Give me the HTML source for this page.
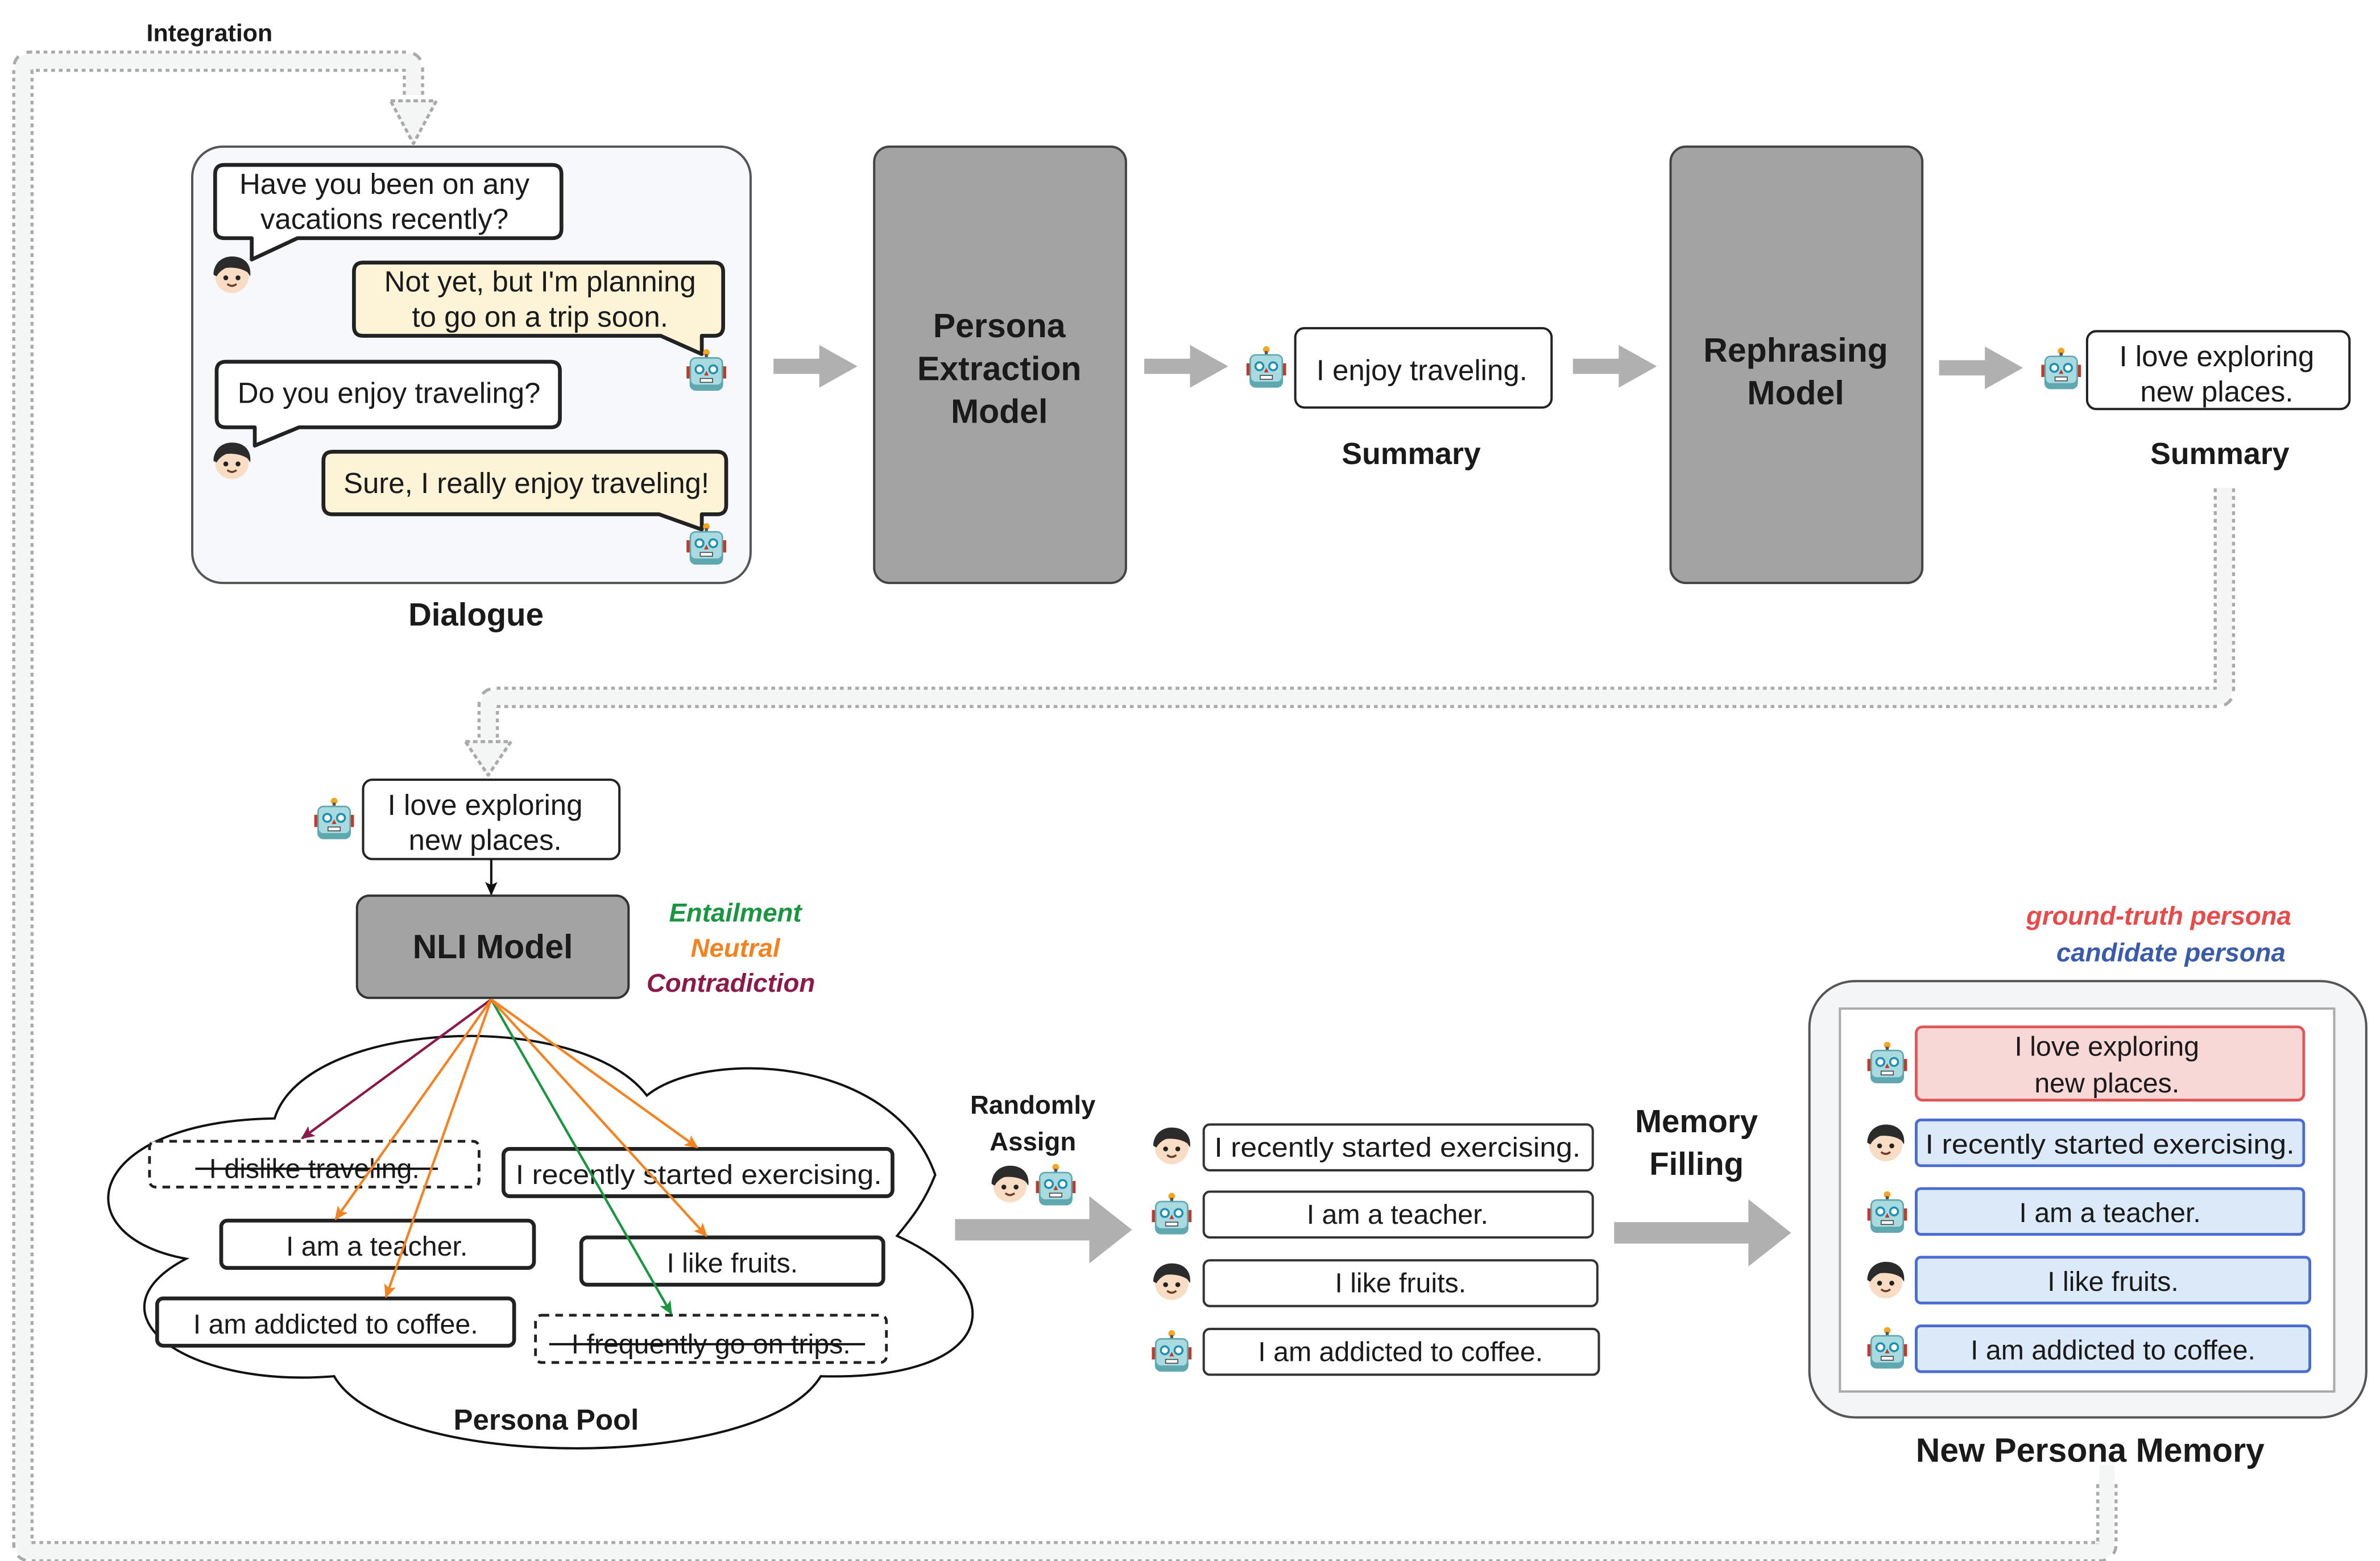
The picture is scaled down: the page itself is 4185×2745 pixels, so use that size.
<!DOCTYPE html>
<html><head><meta charset="utf-8"><style>
html,body{margin:0;padding:0;background:#fff;}
svg{display:block;}
text{font-family:"Liberation Sans",sans-serif;fill:#1a1a1a;}
.b{font-weight:bold;}
</style></head><body>
<svg width="4185" height="2745" viewBox="0 0 1560 1023" xmlns="http://www.w3.org/2000/svg">
<defs>
<g id="face">
<circle cx="0" cy="1" r="11" fill="#f8dcc4"/>
<path d="M-12,0 C-13,-13 13,-13 12,0 C8,-5 -4,-6 -8,-3 Z" fill="#2b2b2b"/>
<path d="M-12,0 C-12,-8 -6,-12 0,-12 C8,-12 13,-7 12,1 L10,-2 C4,-8 -6,-6 -10,1 Z" fill="#2b2b2b"/>
<circle cx="-4" cy="2" r="1.6" fill="#222"/><circle cx="4" cy="2" r="1.6" fill="#222"/>
<path d="M-3,6 Q0,8.5 3,6" stroke="#6b3a2a" stroke-width="1.3" fill="none"/>
</g>
<g id="robot">
<circle cx="0" cy="-12" r="2.2" fill="#f5a623"/>
<rect x="-1" y="-11" width="2" height="3" fill="#555"/>
<rect x="-13" y="-3" width="3" height="8" fill="#c0392b"/><rect x="10" y="-3" width="3" height="8" fill="#c0392b"/>
<rect x="-11" y="-9" width="22" height="22" rx="4" fill="#5fa8b0"/>
<rect x="-10" y="-8" width="20" height="17" rx="3" fill="#a8dadf"/>
<circle cx="-4.5" cy="-1" r="2.6" fill="#fff" stroke="#1d8fb0" stroke-width="1.3"/>
<circle cx="4.5" cy="-1" r="2.6" fill="#fff" stroke="#1d8fb0" stroke-width="1.3"/>
<path d="M0,0 L-1.5,3 L1.5,3 Z" fill="#c0392b"/>
<rect x="-4" y="5" width="8" height="2.5" fill="#fff" stroke="#444" stroke-width="0.6"/>
</g>
<marker id="ma" markerWidth="10" markerHeight="10" refX="8" refY="5" orient="auto" markerUnits="userSpaceOnUse"><path d="M0,1 L9,5 L0,9 L2,5 Z" fill="#8b1a4a"/></marker>
<marker id="mo" markerWidth="10" markerHeight="10" refX="8" refY="5" orient="auto" markerUnits="userSpaceOnUse"><path d="M0,1 L9,5 L0,9 L2,5 Z" fill="#f58220"/></marker>
<marker id="mg" markerWidth="10" markerHeight="10" refX="8" refY="5" orient="auto" markerUnits="userSpaceOnUse"><path d="M0,1 L9,5 L0,9 L2,5 Z" fill="#1a9641"/></marker>
<marker id="mk" markerWidth="10" markerHeight="10" refX="8" refY="5" orient="auto" markerUnits="userSpaceOnUse"><path d="M0,1 L9,5 L0,9 L2,5 Z" fill="#111"/></marker>
</defs>

<!-- integration loop band -->
<g fill="none" stroke-linejoin="round">
<path d="M271,62 L271,45 Q271,40 266,40 L20,40 Q15,40 15,45 L15,1012 Q15,1017 20,1017 L1376,1017 Q1381,1017 1381,1012 L1381,972" stroke="#aaa" stroke-width="14" stroke-dasharray="2.5,2.5"/>
<path d="M271,62 L271,45 Q271,40 266,40 L20,40 Q15,40 15,45 L15,1012 Q15,1017 20,1017 L1376,1017 Q1381,1017 1381,1012 L1381,972" stroke="#f4f5f5" stroke-width="10"/>
<path d="M256,66 L286,66 L271,94 Z" fill="#f4f5f5" stroke="#aaa" stroke-width="2" stroke-dasharray="3,2"/>
<path d="M1381,975 L1381,960" stroke="#f4f5f5" stroke-width="10"/>
<!-- summary to NLI band -->
<path d="M1458,320 L1458,452 Q1458,457 1453,457 L325,457 Q320,457 320,462 L320,484" stroke="#aaa" stroke-width="14" stroke-dasharray="2.5,2.5"/>
<path d="M1458,320 L1458,452 Q1458,457 1453,457 L325,457 Q320,457 320,462 L320,484" stroke="#f4f5f5" stroke-width="10"/>
<path d="M305,486 L335,486 L320,508 Z" fill="#f4f5f5" stroke="#aaa" stroke-width="2" stroke-dasharray="3,2"/>
</g>
<text x="96" y="27" class="b" font-size="16">Integration</text>

<!-- Dialogue -->
<rect x="126" y="96" width="366" height="286" rx="20" fill="#f6f8fb" stroke="#555" stroke-width="1.5"/>
<g stroke="#222" stroke-width="2.5" stroke-linejoin="round">
<path d="M147,108 L362,108 Q368,108 368,114 L368,150 Q368,156 362,156 L195,156 L165,170 L165,156 L147,156 Q141,156 141,150 L141,114 Q141,108 147,108 Z" fill="#fff"/>
<path d="M238,172 L468,172 Q474,172 474,178 L474,214 Q474,220 468,220 L460,220 L460,232 L433,220 L238,220 Q232,220 232,214 L232,178 Q232,172 238,172 Z" fill="#fdf3d6"/>
<path d="M148,237 L361,237 Q367,237 367,243 L367,274 Q367,280 361,280 L196,280 L167,292 L167,280 L148,280 Q142,280 142,274 L142,243 Q142,237 148,237 Z" fill="#fff"/>
<path d="M218,296 L470,296 Q476,296 476,302 L476,331 Q476,337 470,337 L460,337 L460,347 L432,337 L218,337 Q212,337 212,331 L212,302 Q212,296 218,296 Z" fill="#fdf3d6"/>
</g>
<g font-size="19" text-anchor="middle">
<text x="252" y="127">Have you been on any</text>
<text x="252" y="150">vacations recently?</text>
<text x="354" y="191">Not yet, but I'm planning</text>
<text x="354" y="214">to go on a trip soon.</text>
<text x="255" y="264">Do you enjoy traveling?</text>
<text x="345" y="323">Sure, I really enjoy traveling!</text>
</g>
<use href="#face" x="152" y="180"/>
<use href="#robot" x="463" y="243"/>
<use href="#face" x="152" y="302"/>
<use href="#robot" x="463" y="357"/>
<text x="312" y="410" class="b" font-size="21" text-anchor="middle">Dialogue</text>

<!-- models -->
<rect x="573" y="96" width="165" height="286" rx="10" fill="#a3a3a3" stroke="#444" stroke-width="1.5"/>
<g class="b" font-size="22" text-anchor="middle" font-weight="bold">
<text x="655" y="221">Persona</text><text x="655" y="249">Extraction</text><text x="655" y="277">Model</text>
</g>
<rect x="1095" y="96" width="165" height="286" rx="10" fill="#a3a3a3" stroke="#444" stroke-width="1.5"/>
<g font-size="22" text-anchor="middle" font-weight="bold">
<text x="1177" y="237">Rephrasing</text><text x="1177" y="265">Model</text>
</g>

<!-- gray arrows -->
<g fill="#b0b0b0">
<path d="M507,235 L537,235 L537,226 L562,240 L537,254 L537,245 L507,245 Z"/>
<path d="M750,235 L780,235 L780,226 L805,240 L780,254 L780,245 L750,245 Z"/>
<path d="M1031,235 L1061,235 L1061,226 L1086,240 L1061,254 L1061,245 L1031,245 Z"/>
<path d="M1271,236 L1301,236 L1301,227 L1326,241 L1301,255 L1301,246 L1271,246 Z"/>
<path d="M626,799 L714,799 L714,784 L742,806 L714,828 L714,813 L626,813 Z"/>
<path d="M1058,801 L1146,801 L1146,786 L1174,808 L1146,830 L1146,815 L1058,815 Z"/>
</g>

<use href="#robot" x="830" y="241"/>
<rect x="849" y="215" width="168" height="52" rx="6" fill="#fff" stroke="#222" stroke-width="1.5"/>
<text x="932" y="249" font-size="19" text-anchor="middle">I enjoy traveling.</text>
<text x="925" y="304" font-size="20" class="b" text-anchor="middle">Summary</text>

<use href="#robot" x="1351" y="242"/>
<rect x="1368" y="217" width="172" height="51" rx="6" fill="#fff" stroke="#222" stroke-width="1.5"/>
<text x="1453" y="240" font-size="19" text-anchor="middle">I love exploring</text>
<text x="1453" y="263" font-size="19" text-anchor="middle">new places.</text>
<text x="1455" y="304" font-size="20" class="b" text-anchor="middle">Summary</text>

<!-- NLI -->
<use href="#robot" x="219" y="537"/>
<rect x="238" y="511" width="168" height="52" rx="6" fill="#fff" stroke="#222" stroke-width="1.5"/>
<text x="318" y="534" font-size="19" text-anchor="middle">I love exploring</text>
<text x="318" y="557" font-size="19" text-anchor="middle">new places.</text>
<line x1="322" y1="563" x2="322" y2="586" stroke="#111" stroke-width="1.5" marker-end="url(#mk)"/>
<rect x="234" y="587" width="178" height="67" rx="8" fill="#a3a3a3" stroke="#333" stroke-width="1.5"/>
<text x="323" y="628" font-size="22" class="b" text-anchor="middle">NLI Model</text>
<g font-size="17" font-weight="bold" font-style="italic" text-anchor="middle">
<text x="482" y="604" style="fill:#1a9641">Entailment</text>
<text x="482" y="627" style="fill:#f58220">Neutral</text>
<text x="479" y="650" style="fill:#8b1a4a">Contradiction</text>
</g>

<!-- cloud -->
<path d="M180,733 C200,668 380,660 424,718 C460,688 585,690 613,770 C605,790 596,800 588,810 C665,845 655,905 538,902 C500,965 255,965 219,902 C120,910 55,860 122,825 C40,810 55,735 180,733 Z" fill="#fff" stroke="#111" stroke-width="1.5"/>
<g stroke-width="2.5" fill="#fff" stroke="#222">
<rect x="98" y="748" width="216" height="30" rx="4" stroke-dasharray="5,4" stroke-width="1.8"/>
<rect x="330" y="753" width="255" height="31" rx="4"/>
<rect x="145" y="800" width="205" height="31" rx="4"/>
<rect x="381" y="811" width="198" height="31" rx="4"/>
<rect x="103" y="851" width="234" height="31" rx="4"/>
<rect x="351" y="862" width="230" height="31" rx="4" stroke-dasharray="5,4" stroke-width="1.8"/>
</g>
<g font-size="18" text-anchor="middle">
<text x="206" y="772">I dislike traveling.</text>
<text x="458" y="776" textLength="240" lengthAdjust="spacingAndGlyphs">I recently started exercising.</text>
<text x="247" y="823">I am a teacher.</text>
<text x="480" y="834">I like fruits.</text>
<text x="220" y="874">I am addicted to coffee.</text>
<text x="466" y="887">I frequently go on trips.</text>
</g>
<line x1="128" y1="766" x2="287" y2="766" stroke="#111" stroke-width="1.5"/>
<line x1="360" y1="881" x2="567" y2="881" stroke="#111" stroke-width="1.5"/>
<text x="358" y="937" font-size="19" class="b" text-anchor="middle">Persona Pool</text>
<g stroke-width="1.6" fill="none">
<line x1="322" y1="655" x2="198" y2="746" stroke="#8b1a4a" marker-end="url(#ma)"/>
<line x1="322" y1="655" x2="220" y2="799" stroke="#f58220" marker-end="url(#mo)"/>
<line x1="322" y1="655" x2="253" y2="850" stroke="#f58220" marker-end="url(#mo)"/>
<line x1="322" y1="655" x2="440" y2="861" stroke="#1a9641" marker-end="url(#mg)"/>
<line x1="322" y1="655" x2="463" y2="810" stroke="#f58220" marker-end="url(#mo)"/>
<line x1="322" y1="655" x2="457" y2="752" stroke="#f58220" marker-end="url(#mo)"/>
</g>

<!-- randomly assign -->
<text x="677" y="730" font-size="17" class="b" text-anchor="middle">Randomly</text>
<text x="677" y="754" font-size="17" class="b" text-anchor="middle">Assign</text>
<use href="#face" x="662" y="776"/>
<use href="#robot" x="692" y="777"/>
<use href="#face" x="768" y="751"/>
<use href="#robot" x="768" y="796"/>
<use href="#face" x="768" y="840"/>
<use href="#robot" x="768" y="886"/>
<g fill="#fff" stroke="#333" stroke-width="1.5">
<rect x="789" y="737" width="255" height="30" rx="4"/>
<rect x="789" y="781" width="255" height="30" rx="4"/>
<rect x="789" y="826" width="258" height="30" rx="4"/>
<rect x="789" y="871" width="259" height="30" rx="4"/>
</g>
<g font-size="18" text-anchor="middle">
<text x="916" y="758" textLength="240" lengthAdjust="spacingAndGlyphs">I recently started exercising.</text>
<text x="916" y="802">I am a teacher.</text>
<text x="918" y="847">I like fruits.</text>
<text x="918" y="892">I am addicted to coffee.</text>
</g>
<text x="1112" y="742" font-size="21" class="b" text-anchor="middle">Memory</text>
<text x="1112" y="770" font-size="21" class="b" text-anchor="middle">Filling</text>

<!-- new persona memory -->
<g font-size="17" font-weight="bold" font-style="italic" text-anchor="middle">
<text x="1415" y="606" style="fill:#e84a4a">ground-truth persona</text>
<text x="1423" y="630" style="fill:#3a5bab">candidate persona</text>
</g>
<rect x="1186" y="643" width="365" height="286" rx="30" fill="#f4f5f7" stroke="#555" stroke-width="1.5"/>
<rect x="1206" y="661" width="324" height="251" fill="#fff" stroke="#aaa" stroke-width="1.5"/>
<rect x="1256" y="673" width="254" height="48" rx="4" fill="#f8d7d7" stroke="#e05555" stroke-width="1.8"/>
<g fill="#dce9f8" stroke="#4a6bd0" stroke-width="1.8">
<rect x="1256" y="734" width="254" height="30" rx="3"/>
<rect x="1256" y="779" width="254" height="30" rx="3"/>
<rect x="1256" y="824" width="258" height="30" rx="3"/>
<rect x="1256" y="869" width="258" height="30" rx="3"/>
</g>
<g font-size="18" text-anchor="middle">
<text x="1381" y="692">I love exploring</text>
<text x="1381" y="716">new places.</text>
<text x="1383" y="756" textLength="242" lengthAdjust="spacingAndGlyphs">I recently started exercising.</text>
<text x="1383" y="801">I am a teacher.</text>
<text x="1385" y="846">I like fruits.</text>
<text x="1385" y="891">I am addicted to coffee.</text>
</g>
<use href="#robot" x="1237" y="697"/>
<use href="#face" x="1236" y="749"/>
<use href="#robot" x="1237" y="795"/>
<use href="#face" x="1236" y="839"/>
<use href="#robot" x="1237" y="884"/>
<text x="1370" y="958" font-size="22" class="b" text-anchor="middle">New Persona Memory</text>
</svg>
</body></html>
